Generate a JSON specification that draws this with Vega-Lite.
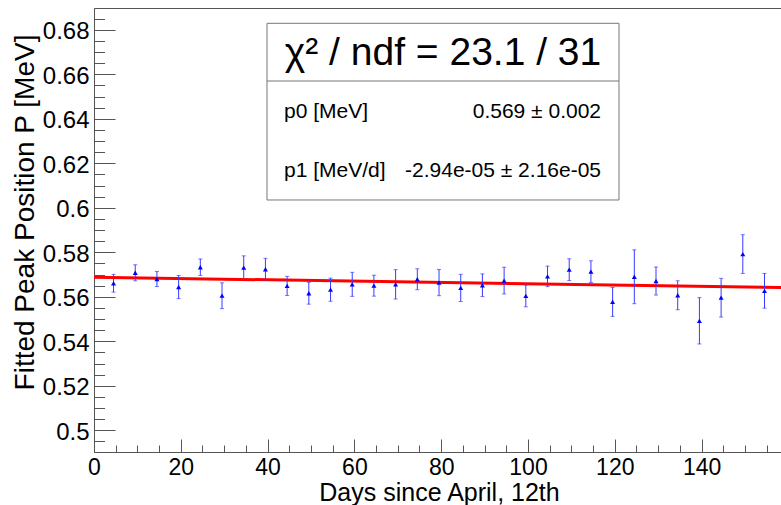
{
  "$schema": "https://vega.github.io/schema/vega-lite/v6.json",
  "width": 688,
  "height": 444,
  "autosize": "none",
  "padding": {"left": 94, "top": 8, "right": 0, "bottom": 53},
  "background": "white",
  "config": {"view": {"stroke": "#555", "strokeWidth": 1}, "font": "Liberation Sans"},
  "datasets": {
    "pts": [
      {"day": 4.5, "p": 0.5661, "lo": 0.5621, "hi": 0.5701},
      {"day": 9.5, "p": 0.5708, "lo": 0.5672, "hi": 0.5744},
      {"day": 14.5, "p": 0.5680, "lo": 0.5646, "hi": 0.5714},
      {"day": 19.5, "p": 0.5644, "lo": 0.5592, "hi": 0.5696},
      {"day": 24.5, "p": 0.5733, "lo": 0.5696, "hi": 0.5770},
      {"day": 29.5, "p": 0.5605, "lo": 0.5547, "hi": 0.5663},
      {"day": 34.5, "p": 0.5731, "lo": 0.5678, "hi": 0.5784},
      {"day": 39.5, "p": 0.5724, "lo": 0.5675, "hi": 0.5773},
      {"day": 44.5, "p": 0.5649, "lo": 0.5606, "hi": 0.5692},
      {"day": 49.5, "p": 0.5616, "lo": 0.5567, "hi": 0.5665},
      {"day": 54.5, "p": 0.5632, "lo": 0.5580, "hi": 0.5684},
      {"day": 59.5, "p": 0.5656, "lo": 0.5602, "hi": 0.5710},
      {"day": 64.5, "p": 0.5650, "lo": 0.5603, "hi": 0.5697},
      {"day": 69.5, "p": 0.5656, "lo": 0.5590, "hi": 0.5722},
      {"day": 74.5, "p": 0.5679, "lo": 0.5632, "hi": 0.5726},
      {"day": 79.5, "p": 0.5664, "lo": 0.5605, "hi": 0.5723},
      {"day": 84.5, "p": 0.5640, "lo": 0.5579, "hi": 0.5701},
      {"day": 89.5, "p": 0.5652, "lo": 0.5601, "hi": 0.5703},
      {"day": 94.5, "p": 0.5673, "lo": 0.5613, "hi": 0.5733},
      {"day": 99.5, "p": 0.5604, "lo": 0.5555, "hi": 0.5653},
      {"day": 104.5, "p": 0.5692, "lo": 0.5646, "hi": 0.5738},
      {"day": 109.5, "p": 0.5722, "lo": 0.5673, "hi": 0.5771},
      {"day": 114.5, "p": 0.5713, "lo": 0.5664, "hi": 0.5762},
      {"day": 119.5, "p": 0.5577, "lo": 0.5512, "hi": 0.5642},
      {"day": 124.5, "p": 0.5690, "lo": 0.5569, "hi": 0.5811},
      {"day": 129.5, "p": 0.5671, "lo": 0.5608, "hi": 0.5734},
      {"day": 134.5, "p": 0.5607, "lo": 0.5542, "hi": 0.5672},
      {"day": 139.5, "p": 0.5492, "lo": 0.5388, "hi": 0.5596},
      {"day": 144.5, "p": 0.5596, "lo": 0.5509, "hi": 0.5683},
      {"day": 149.5, "p": 0.5792, "lo": 0.5705, "hi": 0.5879},
      {"day": 154.5, "p": 0.5627, "lo": 0.5549, "hi": 0.5705}
    ],
    "fit": [
      {"day": 0, "p": 0.5688},
      {"day": 158.53, "p": 0.5642}
    ]
  },
  "resolve": {"axis": {"x": "independent", "y": "independent"}},
  "layer": [
    {
      "data": {"name": "fit"},
      "mark": {"type": "line", "color": "#ff0000", "strokeWidth": 3, "clip": true},
      "encoding": {
        "x": {"field": "day", "type": "quantitative",
          "scale": {"domain": [0, 158.53], "nice": false, "zero": false},
          "axis": {"orient": "bottom", "values": [0, 20, 40, 60, 80, 100, 120, 140], "ticks": false, "grid": false,
            "domain": true, "domainColor": "#555", "labelFont": "Liberation Sans", "labelFontSize": 23, "labelColor": "#000",
            "labelPadding": 4, "labelFlush": false, "labelOverlap": false,
            "title": "Days since April, 12th", "titleFont": "Liberation Sans", "titleFontSize": 25, "titleFontWeight": "normal",
            "titleColor": "#000", "titleBaseline": "alphabetic", "titleY": 48, "titleX": 345, "titleAnchor": null}},
        "y": {"field": "p", "type": "quantitative",
          "scale": {"domain": [0.49025, 0.6898], "nice": false, "zero": false},
          "axis": {"orient": "left", "values": [0.5, 0.52, 0.54, 0.56, 0.58, 0.6, 0.62, 0.64, 0.66, 0.68], "format": "~g",
            "ticks": false, "grid": false, "domain": true, "domainColor": "#555",
            "labelFont": "Liberation Sans", "labelFontSize": 24, "labelColor": "#000", "labelPadding": 5,
            "labelBaseline": "middle", "labelOffset": 2, "labelFlush": false, "labelOverlap": false,
            "title": "Fitted Peak Position P [MeV]", "titleFont": "Liberation Sans", "titleFontSize": 28, "titleFontWeight": "normal",
            "titleColor": "#000", "titleAngle": -90, "titleBaseline": "alphabetic", "titleAlign": "center", "titleX": -61, "titleY": 204}}
      }
    },
    {
      "data": {"name": "pts"},
      "mark": {"type": "rule", "color": "#3a3aff", "strokeWidth": 1},
      "encoding": {
        "x": {"field": "day", "type": "quantitative",
          "axis": {"orient": "bottom", "values": [0, 20, 40, 60, 80, 100, 120, 140], "labels": false, "domain": false, "grid": false,
            "ticks": true, "tickSize": -13, "tickColor": "#555", "title": null}},
        "y": {"field": "lo", "type": "quantitative",
          "axis": {"orient": "left", "values": [0.5, 0.52, 0.54, 0.56, 0.58, 0.6, 0.62, 0.64, 0.66, 0.68], "labels": false,
            "domain": false, "grid": false, "ticks": true, "tickSize": -21, "tickColor": "#555", "title": null}},
        "y2": {"field": "hi"}
      }
    },
    {
      "data": {"name": "pts"},
      "mark": {"type": "tick", "orient": "horizontal", "color": "#3a3aff", "size": 4, "thickness": 1},
      "encoding": {
        "x": {"field": "day", "type": "quantitative",
          "axis": {"orient": "bottom", "values": [5, 10, 15, 25, 30, 35, 45, 50, 55, 65, 70, 75, 85, 90, 95, 105, 110, 115, 125, 130, 135, 145, 150, 155],
            "labels": false, "domain": false, "grid": false, "ticks": true, "tickSize": -7, "tickColor": "#555", "title": null}},
        "y": {"field": "lo", "type": "quantitative",
          "axis": {"orient": "left", "values": [0.495, 0.505, 0.51, 0.515, 0.525, 0.53, 0.535, 0.545, 0.55, 0.555, 0.565, 0.57, 0.575, 0.585, 0.59, 0.595, 0.605, 0.61, 0.615, 0.625, 0.63, 0.635, 0.645, 0.65, 0.655, 0.665, 0.67, 0.675, 0.685],
            "labels": false, "domain": false, "grid": false, "ticks": true, "tickSize": -10.5, "tickColor": "#555", "title": null}}
      }
    },
    {
      "data": {"name": "pts"},
      "mark": {"type": "tick", "orient": "horizontal", "color": "#3a3aff", "size": 4, "thickness": 1},
      "encoding": {
        "x": {"field": "day", "type": "quantitative", "axis": null},
        "y": {"field": "hi", "type": "quantitative", "axis": null}
      }
    },
    {
      "data": {"name": "pts"},
      "mark": {"type": "point", "shape": "triangle-up", "filled": true, "color": "#0000ff", "size": 25, "opacity": 1},
      "encoding": {
        "x": {"field": "day", "type": "quantitative", "axis": null},
        "y": {"field": "p", "type": "quantitative", "axis": null}
      }
    },
    {
      "data": {"values": [{}]},
      "mark": {"type": "rect", "fill": "white", "stroke": "#777", "strokeWidth": 1},
      "encoding": {
        "x": {"datum": 39.86, "type": "quantitative", "axis": null},
        "x2": {"datum": 120.97},
        "y": {"datum": 0.68292, "type": "quantitative", "axis": null},
        "y2": {"datum": 0.60351}
      }
    },
    {
      "data": {"values": [{}]},
      "mark": {"type": "rule", "stroke": "#777", "strokeWidth": 1},
      "encoding": {
        "x": {"datum": 39.86, "type": "quantitative", "axis": null},
        "x2": {"datum": 120.97},
        "y": {"datum": 0.65699, "type": "quantitative", "axis": null}
      }
    },
    {
      "data": {"values": [{"t": "χ² / ndf = 23.1 / 31"}]},
      "mark": {"type": "text", "font": "Liberation Sans", "fontSize": 39, "align": "center", "baseline": "alphabetic", "color": "#000"},
      "encoding": {
        "x": {"datum": 80.42, "type": "quantitative", "axis": null},
        "y": {"datum": 0.66418, "type": "quantitative", "axis": null},
        "text": {"field": "t"}
      }
    },
    {
      "data": {"values": [{"t": "p0 [MeV]", "v": 0.64036}, {"t": "p1 [MeV/d]", "v": 0.61384}]},
      "mark": {"type": "text", "font": "Liberation Sans", "fontSize": 21, "align": "left", "baseline": "alphabetic", "color": "#000"},
      "encoding": {
        "x": {"datum": 43.78, "type": "quantitative", "axis": null},
        "y": {"field": "v", "type": "quantitative", "axis": null},
        "text": {"field": "t"}
      }
    },
    {
      "data": {"values": [{"t": "0.569 ± 0.002", "v": 0.64036}, {"t": "-2.94e-05 ± 2.16e-05", "v": 0.61384}]},
      "mark": {"type": "text", "font": "Liberation Sans", "fontSize": 21, "align": "right", "baseline": "alphabetic", "color": "#000"},
      "encoding": {
        "x": {"datum": 116.83, "type": "quantitative", "axis": null},
        "y": {"field": "v", "type": "quantitative", "axis": null},
        "text": {"field": "t"}
      }
    }
  ]
}
